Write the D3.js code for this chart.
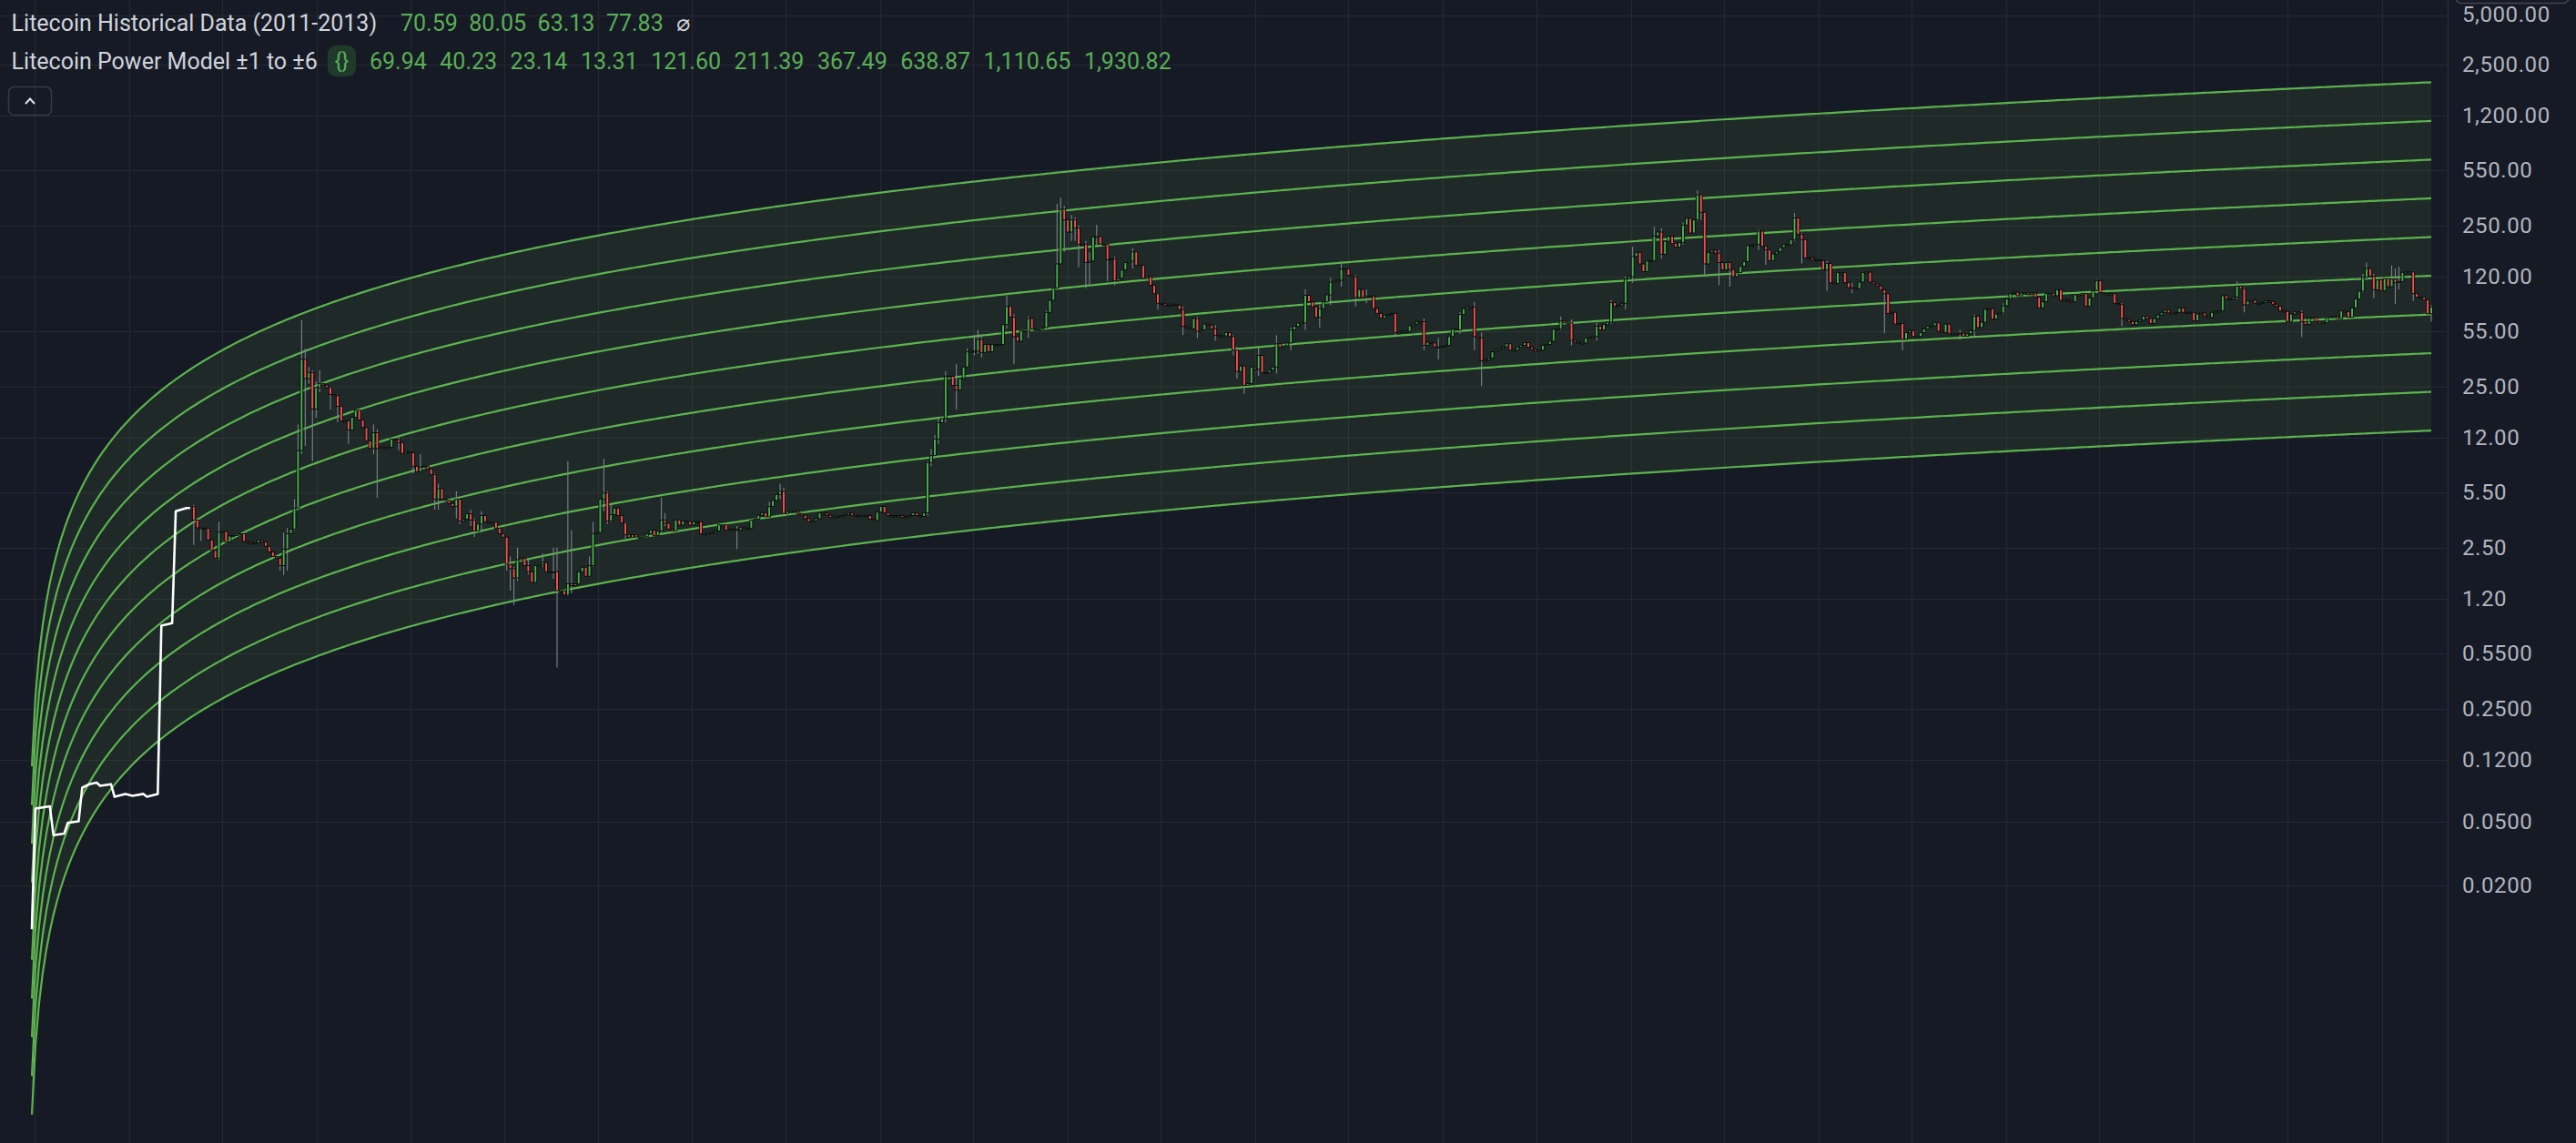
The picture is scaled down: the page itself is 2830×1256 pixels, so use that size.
<!DOCTYPE html>
<html><head><meta charset="utf-8">
<script src="https://cdn.jsdelivr.net/npm/d3@7"></script>
<style>
html,body{margin:0;padding:0;background:#161a25;overflow:hidden;}
svg{display:block;}
text{font-family:Roboto,"Noto Sans","DejaVu Sans",sans-serif;}
</style></head><body>
<svg id="chart" width="2830" height="1256"></svg>
<script>
// ================= DATA =================
// weekly candles (Monday weeks) starting at this date
const candleStart = "2013-05-06";
const firstOpen = 4.49;
// weekly closes
const weeklyClose = [
3.70,3.32,3.30,3.30,2.79,2.40,2.15,3.11,3.15,2.70,
2.95,2.97,3.04,3.05,2.73,2.70,2.66,2.68,2.77,2.70,
2.55,2.35,2.20,2.15,1.93,2.45,3.05,3.25,4.40,10.0,
36.8,28.0,30.5,18.1,24.6,26.0,25.5,24.6,22.3,21.9,
18.8,15.3,15.3,13.4,16.1,17.8,15.5,13.9,11.5,10.3,
12.9,10.3,10.5,10.3,10.5,11.8,11.7,11.2,9.6,9.8,
9.7,8.0,7.4,7.9,8.0,7.7,7.1,5.0,5.8,5.0,
4.9,4.7,4.5,5.0,3.65,3.75,4.05,3.70,3.17,3.50,
3.95,3.62,3.60,3.60,3.30,3.05,2.90,1.97,1.85,1.62,
2.10,2.15,1.93,1.77,1.52,1.93,1.95,2.02,1.77,1.77,
1.77,1.35,1.35,1.27,1.49,1.45,1.49,1.77,1.89,1.66,
1.93,3.04,3.10,5.00,5.45,3.65,4.00,4.40,3.95,3.55,
3.00,2.90,3.00,2.91,2.91,2.92,3.04,3.20,2.97,3.17,
3.70,3.54,3.25,3.17,3.70,3.45,3.65,3.63,3.45,3.62,
3.62,3.04,3.04,3.10,3.10,3.17,3.46,3.46,3.20,3.25,
3.25,3.20,3.32,3.30,3.30,3.70,3.75,3.97,4.12,3.88,
4.50,4.90,5.34,5.58,4.07,4.20,4.20,4.20,4.07,3.97,
3.78,3.62,3.65,3.78,4.10,4.10,3.97,3.85,3.88,3.90,
3.95,4.00,4.10,3.97,3.92,3.95,3.97,3.95,3.75,3.68,
4.15,4.50,4.10,3.95,3.95,3.90,3.95,3.85,3.90,3.95,
4.10,3.95,3.90,4.10,8.42,9.30,11.8,14.9,15.8,29.0,
28.9,25.4,23.8,28.0,33.0,41.0,41.5,41.5,48.9,40.6,
45.6,41.0,45.6,45.6,45.6,60.5,78.5,67.4,50.9,47.7,
55.5,55.0,66.0,56.7,57.0,57.0,58.0,72.0,85.6,101.8,
144,314,270,227,270,240,191,191,147,150,
212,213,191,190,153,155,113,117,132,147,
150,171,141,141,117,120,106,94,82,82,
80,80,81,80,75,59,58,57,66,55,
56,61,60,57,52,51.5,51.5,54,51,42,
31,33.5,25.4,26,33,32,39,30.5,30.5,31.5,
33,46,43.7,44.7,46.5,56,59,61.8,62,92,
83.7,78,67,76,83.7,92.5,111,113,114,134,
134,122,120,89,100,89,91,91,76,71,
66.6,69,70,71,54,54.5,55,55,59.5,61,
63,63,45,47,46.5,44,44,44.5,45,51,
56.7,56,70,76,78,78,51,50,36,36.5,
37.5,41,42,43,44,46,42,42,43.7,45,
46.7,43.7,42.4,41.3,42,45,45.5,47.7,56.7,57,
63.7,62,62,48.3,47,46.5,46.5,50,50.8,51,
59.2,56,60.5,62.5,82.7,78.5,80,82,116,120,
160,170,144,129,150,151,215,227,165,199,
214,193,183,195,251,276,224,270,387,301,
144,170,175,168,147,132,147,133,120,127,
139,149,187,188,190,230,185,176,151,166,
171,182,190,189,204,278,220,204,157,157,
152,153,151,132,145,110,109,127,127,110,
102.7,101.8,101,111,127,128,111,108,105,99.6,
94,71,72,61,61.5,49,54,55.5,51,51,
54,57,59,59.5,62,55,54,61,53,53.1,
53,53.5,51.3,53,55.5,68.3,58,62.6,75.2,76,
65.4,70.4,71.3,79.2,87.4,94.2,96,91.4,95,95,
92.7,95,89.4,76.8,83.8,94.2,94.5,91.4,99.6,85.6,
86,84.7,83.8,92.7,92,94.2,78.5,88.6,98.4,113.4,
95.4,94,94,94,81.9,80.5,66,65,63.2,60.5,
63.2,64.5,68.3,66,61.5,66,69.5,72,74.5,71.5,
71,72,76.8,72,71.5,72,63.8,70.4,71.3,68.5,
67,72,72.5,73.6,91.4,87.5,87,89.4,104.9,101,
80.2,84.7,85.6,82,82,83,85,84,81,78.5,
73.6,73,63.2,70.4,72.6,72,63.2,60.5,66.6,67,
63.2,61.5,62,67.1,68,68,66,73.6,73,67.1,
76.8,87.4,97.5,118.4,134.9,120.8,99.6,114.8,98.4,116.8,
104,116,110,112,127.5,128.5,128.5,94.2,89.4,89.4,
86.2,70.59,77.83
];
// visible wicks: [week index, high, low]
const wickData = [
[0,4.6,2.6],[2,3.35,2.75],[7,3.62,2.1],[24,2.0,1.8],[25,3.1,1.69],[26,3.3,1.8],[28,5.0,3.2],
[29,14.5,4.3],[30,64.6,9.5],[31,42.9,10.7],[32,33,26],[33,31.6,8.6],[34,27,16],[35,31.6,23],
[38,25,18],[40,19.5,15],[43,15,11],[50,14.5,9.5],[51,13.5,5.1],[57,12.5,10],[61,8.5,7.2],
[63,9.5,7.5],[67,7.2,4.3],[68,6.2,4.3],[73,5.6,3.8],[74,4.9,3.5],[77,4.3,3.4],[78,3.8,2.9],
[80,4.2,3.1],[87,2.9,1.8],[88,2.2,1.35],[89,1.9,1.1],[90,2.5,1.55],[93,2.1,1.7],[97,2.3,1.9],
[100,2.5,1.6],[101,2.5,0.45],[104,8.6,1.25],[105,3.2,1.3],[110,2.2,1.8],[111,3.6,1.9],
[114,8.9,4.2],[115,5.6,3.5],[116,4.7,3.6],[120,3.6,2.85],[130,5.1,3.1],[131,4.1,3.4],
[151,3.4,2.45],[160,4.8,4.0],[163,6.2,5.0],[164,5.9,3.9],[204,8.6,3.95],[205,10.2,8.0],
[206,12.5,9.0],[207,16,11],[209,31,15],[212,34.4,18],[215,43,33],[217,52,39],[218,56,40],
[219,52,38],[226,91.4,57],[228,70,34.4],[232,68,50],[237,74,56],[240,340,100],[241,370.6,250],
[242,330,171],[244,290,200],[245,280,200],[246,250,137],[248,200,101.8],[249,170,106],
[251,252,190],[254,190,113],[256,160,106],[261,180,135],[268,95,75],[275,78,52],[279,68,50],
[284,60,48],[289,52,39],[290,44,28],[292,33,22.6],[296,44,29],[301,52,30],[305,58,42],
[309,100,56],[313,80,58],[316,118,80],[319,146,104],[323,123,78.5],[326,100,82],[334,70,50.8],
[342,66,42],[346,50,36.7],[352,72,53],[356,83.7,42],[358,54,25.1],[380,68,56],[383,65,45],
[390,62,48],[394,86,61],[398,120,75],[400,184,110],[406,245,150],[408,240,155],[414,260,190],
[418,411,265],[419,390,270],[420,301,120],[424,175,106],[427,135,104],[435,235,175],
[437,182,142],[445,298,200],[447,225,145],[454,150,98],[461,110,95],[470,100,53.6],
[475,62,41.9],[491,56,48.7],[495,70,50],[503,82,70],[529,115,95],[536,82,59.2],[568,112,87],
[570,103,72],[586,74,50.6],[603,125,96],[604,147,115],[606,125,88],[611,141,105],[612,135,81],
[613,138,100],[617,130,85],[622,80.05,63.13]
];
// Litecoin historical data (white line), weekly bar dates on the chart axis
const histDates = ["2012-06-25","2012-07-02","2012-07-30","2012-08-06","2012-08-27","2012-09-03",
"2012-09-24","2012-10-01","2012-10-15","2012-10-29","2012-11-05","2012-11-26","2012-12-03",
"2012-12-24","2013-01-07","2013-01-28","2013-02-04","2013-02-25","2013-03-04","2013-03-25",
"2013-04-01","2013-04-22","2013-04-29"];
const histValues = [0.0107,0.060,0.062,0.041,0.042,0.049,0.050,0.081,0.085,0.087,0.083,0.085,
0.071,0.074,0.072,0.074,0.071,0.074,0.82,0.85,4.2,4.4,4.4];
// power model parameters (center value on the last bar, exponent, band step)
const modelCenterAtEnd = 69.9446;
const modelB = 1.5226;
const bandStep = 1.73846;
const modelGenesis = Date.UTC(2012,5,17,9);
const bandOffsets = [0,-1,-2,-3,1,2,3,4,5,6];
// axis
const chartStart = "2012-06-25";
const chartEnd = "2025-04-07";
const priceTicks = [5000,2500,1200,550,250,120,55,25,12,5.5,2.5,1.2,0.55,0.25,0.12,0.05,0.02];
const titleHist = "Litecoin Historical Data (2011-2013)";
const titleModel = "Litecoin Power Model \u00b11 to \u00b16";

// ================= CHART =================
const W = 2830, H = 1256, plotRight = 2689;
const svg = d3.select("#chart");
const BG = "#161a25", GRID = "#242833", GREEN_LINE = "#5cb34e", UP = "#4caf50", DOWN = "#ef5350";

const x = d3.scaleUtc().domain([new Date(chartStart), new Date(chartEnd)]).range([35, 2671]);
const y = d3.scaleLog().domain([Math.pow(10,-3.29711), Math.pow(10,3.79609)]).range([H, 0]);

svg.append("rect").attr("width", W).attr("height", H).attr("fill", BG);
svg.append("defs").append("clipPath").attr("id","plotclip")
  .append("rect").attr("x",0).attr("y",0).attr("width",plotRight).attr("height",H);
const plot = svg.append("g").attr("clip-path","url(#plotclip)");

// grid
const gridDates = [];
for (let yr = 2012; yr <= 2025; yr++) { gridDates.push(new Date(Date.UTC(yr,0,1))); gridDates.push(new Date(Date.UTC(yr,6,1))); }
const dom = x.domain();
plot.append("g").selectAll("line").data(gridDates.filter(d => d >= dom[0] && d <= dom[1])).join("line")
  .attr("x1", d => Math.round(x(d))+0.5).attr("x2", d => Math.round(x(d))+0.5)
  .attr("y1", 0).attr("y2", H).attr("stroke", GRID).attr("stroke-width", 1);
plot.append("g").selectAll("line").data(priceTicks).join("line")
  .attr("x1", 0).attr("x2", plotRight)
  .attr("y1", d => Math.round(y(d))+0.5).attr("y2", d => Math.round(y(d))+0.5)
  .attr("stroke", GRID).attr("stroke-width", 1);

// power model per weekly bar
const startD = new Date(chartStart), endD = new Date(chartEnd);
const endDays = (endD.getTime() - modelGenesis) / 864e5;
const modelA = modelCenterAtEnd / Math.pow(endDays, modelB);
const bars = [];
for (let d = startD; d <= endD; d = d3.utcDay.offset(d, 7)) {
  const days = (d.getTime() - modelGenesis) / 864e5;
  bars.push({date: d, center: modelA * Math.pow(days, modelB)});
}
const band = (b, k) => b.center * Math.pow(bandStep, k);
plot.append("path").datum(bars)
  .attr("d", d3.area().x(b => x(b.date)).y0(b => y(band(b,-3))).y1(b => y(band(b,6))))
  .attr("fill", "rgba(110,180,70,0.10)");
bandOffsets.forEach(k => {
  plot.append("path").datum(bars)
    .attr("d", d3.line().x(b => x(b.date)).y(b => y(band(b,k))))
    .attr("fill","none").attr("stroke", GREEN_LINE).attr("stroke-width", 2.2);
});

// historical white line
const hist = histDates.map((d,i) => ({date: new Date(d), v: histValues[i]}));
plot.append("path").datum(hist)
  .attr("d", d3.line().x(d => x(d.date)).y(d => y(d.v)))
  .attr("fill","none").attr("stroke","#ffffff").attr("stroke-width",2.6)
  .attr("stroke-linejoin","round");

// candles
const cStart = new Date(candleStart);
const wickMap = new Map(wickData.map(w => [w[0], w]));
const candles = weeklyClose.map((c, i) => {
  const o = i ? weeklyClose[i-1] : firstOpen;
  const w = wickMap.get(i);
  return {date: d3.utcDay.offset(cStart, 7*i), open: o, close: c,
    high: Math.max(o, c, w ? w[1] : 0), low: Math.min(o, c, w ? w[2] : Infinity)};
});
plot.append("g").selectAll("line")
  .data(candles.filter(c => c.high > Math.max(c.open,c.close) || c.low < Math.min(c.open,c.close))).join("line")
  .attr("x1", c => x(c.date)).attr("x2", c => x(c.date))
  .attr("y1", c => y(c.high)).attr("y2", c => y(c.low))
  .attr("stroke", "#80838c").attr("stroke-width", 1.1);
const bw = 2.9;
plot.append("g").selectAll("rect").data(candles).join("rect")
  .attr("x", c => x(c.date) - bw/2)
  .attr("y", c => Math.min(y(c.open), y(c.close)))
  .attr("width", bw)
  .attr("height", c => Math.max(1.3, Math.abs(y(c.open) - y(c.close))))
  .attr("fill", c => c.close >= c.open ? UP : DOWN)
  .attr("stroke", "#050608").attr("stroke-width", 0.9);

// price axis
svg.append("rect").attr("x", plotRight).attr("y",0).attr("width", W-plotRight).attr("height",H).attr("fill",BG);
svg.append("line").attr("x1",plotRight+0.5).attr("x2",plotRight+0.5).attr("y1",0).attr("y2",H)
  .attr("stroke","#2a2e39").attr("stroke-width",1.5);
const fmtBig = d3.format(",.2f"), fmtSmall = d3.format(".4f");
svg.append("g").selectAll("text").data(priceTicks).join("text")
  .attr("x", 2705).attr("y", d => d === 5000 ? 24 : y(d) + 8)
  .attr("font-size", 24).attr("fill", "#b2b5be").attr("letter-spacing", 0.6)
  .text(d => d >= 1 ? fmtBig(d) : fmtSmall(d));
svg.append("rect").attr("x",2697.5).attr("y",-40).attr("width",125).attr("height",43.5).attr("rx",7)
  .attr("fill",BG).attr("stroke","#434651").attr("stroke-width",1.5);

// legend
const LEG = 25, VAL = "#5aae55";
const last = candles[candles.length-1];
const histLegend = [last.open, last.high, last.low, last.close].map(v => fmtBig(v));
const lastBar = bars[bars.length-1];
const modelLegend = bandOffsets.map(k => fmtBig(band(lastBar,k)));
const lg = svg.append("g");
lg.append("text").attr("x",12.6).attr("y",34).attr("font-size",LEG).attr("fill","#d1d4dc").text(titleHist);
let cx = 440;
histLegend.forEach(v => {
  const t = lg.append("text").attr("x",cx).attr("y",34).attr("font-size",LEG).attr("fill",VAL).text(v);
  cx += t.node().getComputedTextLength() + 12.5;
});
lg.append("text").attr("x",cx+2).attr("y",34).attr("font-size",LEG)
  .attr("font-family","'DejaVu Sans',sans-serif").attr("fill","#d1d4dc").text("\u2300");
lg.append("text").attr("x",12.6).attr("y",76).attr("font-size",LEG).attr("fill","#d1d4dc").text(titleModel);
lg.append("rect").attr("x",360).attr("y",50).attr("width",31).attr("height",34).attr("rx",9).attr("fill","#1f3a2b");
lg.append("text").attr("x",375.5).attr("y",75).attr("text-anchor","middle").attr("font-size",23)
  .attr("fill",VAL).text("{}");
cx = 406;
modelLegend.forEach(v => {
  const t = lg.append("text").attr("x",cx).attr("y",76).attr("font-size",LEG).attr("fill",VAL).text(v);
  cx += t.node().getComputedTextLength() + 14.5;
});
// collapse button
lg.append("rect").attr("x",9.5).attr("y",95.5).attr("width",47).attr("height",31).attr("rx",6)
  .attr("fill","none").attr("stroke","#363a45").attr("stroke-width",1.5);
lg.append("path").attr("d","M28,114 L33,108.5 L38,114").attr("fill","none")
  .attr("stroke","#e0e3eb").attr("stroke-width",2);
</script>
</body></html>
